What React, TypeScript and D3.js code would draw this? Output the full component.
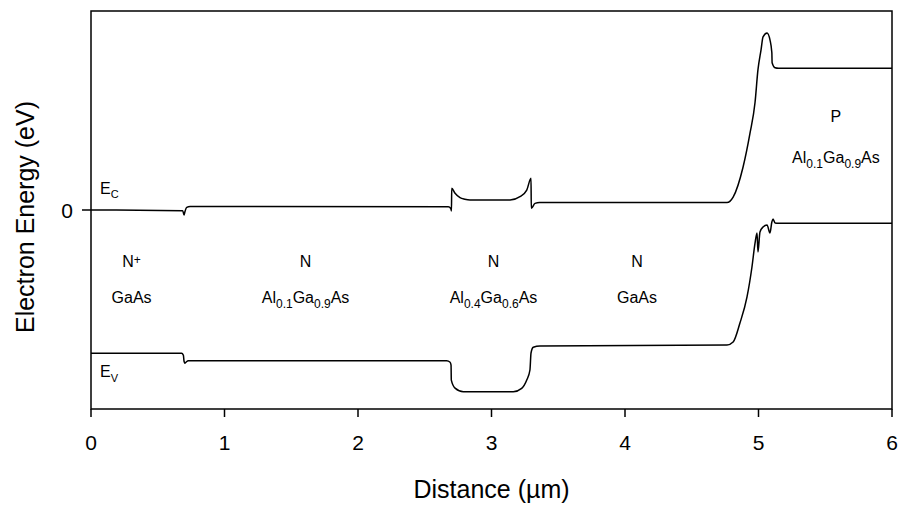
import React from "react";
import * as d3 from "d3";

// Conduction band edge Ec: [distance (µm), energy (eV)]
const ecDistance = [0, 0.687, 0.697, 0.703, 0.717, 0.742, 2.676, 2.695, 2.7, 2.702, 2.727, 2.764, 2.8, 2.839, 3.139, 3.213, 3.264, 3.296, 3.298, 3.326, 3.36, 4.764, 4.81, 4.884, 4.936, 4.974, 4.996, 5.019, 5.034, 5.064, 5.086, 5.1, 5.102, 5.124, 5.15, 6];
const ecEnergy = [0, -0.007, -0.05, -0.02, 0.027, 0.035, 0.033, 0.015, -0.01, 0.218, 0.168, 0.124, 0.108, 0.1, 0.1, 0.134, 0.2, 0.319, 0.017, 0.067, 0.075, 0.075, 0.13, 0.43, 0.77, 1.08, 1.41, 1.61, 1.74, 1.78, 1.71, 1.58, 1.48, 1.43, 1.425, 1.425];

// Valence band edge Ev
const evDistance = [0, 0.679, 0.692, 0.697, 0.704, 0.715, 0.729, 2.664, 2.69, 2.697, 2.699, 2.727, 2.789, 3.163, 3.226, 3.264, 3.288, 3.296, 3.313, 3.363, 4.764, 4.81, 4.861, 4.914, 4.951, 4.974, 4.989, 4.996, 5.011, 5.034, 5.064, 5.086, 5.1, 5.109, 5.124, 5.15, 6];
const evEnergy = [-1.44, -1.44, -1.46, -1.52, -1.54, -1.525, -1.515, -1.515, -1.53, -1.56, -1.71, -1.79, -1.826, -1.826, -1.792, -1.709, -1.608, -1.437, -1.38, -1.367, -1.357, -1.327, -1.136, -0.874, -0.573, -0.332, -0.231, -0.422, -0.221, -0.171, -0.151, -0.231, -0.121, -0.09, -0.131, -0.133, -0.133];

const xTicks = [0, 1, 2, 3, 4, 5, 6];
const yTicks = [0];

const regionDoping = ["N^{+}", "N", "N", "N", "P"];
const regionMaterial = ["GaAs", "Al_{0.1}Ga_{0.9}As", "Al_{0.4}Ga_{0.6}As", "GaAs", "Al_{0.1}Ga_{0.9}As"];

// label placement (data coordinates) — layout, not data
const labelX = [0.304, 1.607, 3.015, 4.09, 5.58];
const dopingY = [-0.575, -0.575, -0.575, -0.575, 0.885];
const materialY = [-0.935, -0.935, -0.935, -0.935, 0.47];

const W = 899;
const H = 506;
const FONT = "'Liberation Sans', Arial, Helvetica, sans-serif";

function RichText({ s, x, y, size, subSize }: { s: string; x: number; y: number; size: number; subSize: number }) {
  const parts: { t: string; k: "n" | "sub" | "sup" }[] = [];
  const re = /_\{([^}]*)\}|\^\{([^}]*)\}/g;
  let last = 0;
  let m: RegExpExecArray | null;
  while ((m = re.exec(s))) {
    if (m.index > last) parts.push({ t: s.slice(last, m.index), k: "n" });
    if (m[1] !== undefined) parts.push({ t: m[1], k: "sub" });
    else parts.push({ t: m[2], k: "sup" });
    last = m.index + m[0].length;
  }
  if (last < s.length) parts.push({ t: s.slice(last), k: "n" });
  let offset = 0;
  return (
    <text x={x} y={y} textAnchor="middle" fontFamily={FONT} fontSize={size} fill="#000">
      {parts.map((p, i) => {
        let target = 0;
        if (p.k === "sub") target = 5;
        if (p.k === "sup") target = -3;
        const dy = target - offset;
        offset = target;
        return (
          <tspan key={i} dy={dy} fontSize={p.k === "n" ? size : subSize}>
            {p.t}
          </tspan>
        );
      })}
    </text>
  );
}

export default function App() {
  const x = d3.scaleLinear().domain([0, 6]).range([91, 892]);
  const y = d3.scaleLinear().domain([-2, 2]).range([409, 11]);

  const ec = ecDistance.map((d, i) => [d, ecEnergy[i]] as [number, number]);
  const ev = evDistance.map((d, i) => [d, evEnergy[i]] as [number, number]);

  const line = d3
    .line<[number, number]>()
    .x((d) => x(d[0]))
    .y((d) => y(d[1]))
    .curve(d3.curveMonotoneX);

  const [x0, x1] = x.range();
  const [yb, yt] = y.range();

  return (
    <svg width={W} height={H} style={{ position: "absolute", left: 0, top: 0, background: "#fff" }}>
      <rect x={0} y={0} width={W} height={H} fill="#fff" />
      <path d={line(ec) || ""} fill="none" stroke="#000" strokeWidth={1.5} />
      <path d={line(ev) || ""} fill="none" stroke="#000" strokeWidth={1.5} />
      <rect x={x0} y={yt} width={x1 - x0} height={yb - yt} fill="none" stroke="#000" strokeWidth={1.5} />

      {xTicks.map((t) => (
        <g key={t}>
          <line x1={x(t)} x2={x(t)} y1={yb} y2={yb + 8} stroke="#000" strokeWidth={1.5} />
          <text x={x(t)} y={450} textAnchor="middle" fontFamily={FONT} fontSize={21}>
            {t}
          </text>
        </g>
      ))}
      {yTicks.map((t) => (
        <g key={t}>
          <line x1={x0 - 9} x2={x0} y1={y(t)} y2={y(t)} stroke="#000" strokeWidth={1.5} />
          <text x={73} y={y(t) + 7.5} textAnchor="end" fontFamily={FONT} fontSize={21}>
            {t}
          </text>
        </g>
      ))}

      <text x={(x0 + x1) / 2} y={498} textAnchor="middle" fontFamily={FONT} fontSize={25}>
        Distance (µm)
      </text>
      <text
        transform={`translate(34,${(yb + yt) / 2 + 7}) rotate(-90)`}
        textAnchor="middle"
        fontFamily={FONT}
        fontSize={25}
      >
        Electron Energy (eV)
      </text>

      <text x={100} y={194} fontFamily={FONT} fontSize={16}>
        E<tspan dy={4} fontSize={11}>C</tspan>
      </text>
      <text x={100} y={377} fontFamily={FONT} fontSize={16}>
        E<tspan dy={5} fontSize={11}>V</tspan>
      </text>

      {regionDoping.map((d, i) => (
        <RichText key={"d" + i} s={d} x={x(labelX[i])} y={y(dopingY[i])} size={16} subSize={12} />
      ))}
      {regionMaterial.map((d, i) => (
        <RichText key={"m" + i} s={d} x={x(labelX[i])} y={y(materialY[i])} size={16} subSize={12} />
      ))}
    </svg>
  );
}
